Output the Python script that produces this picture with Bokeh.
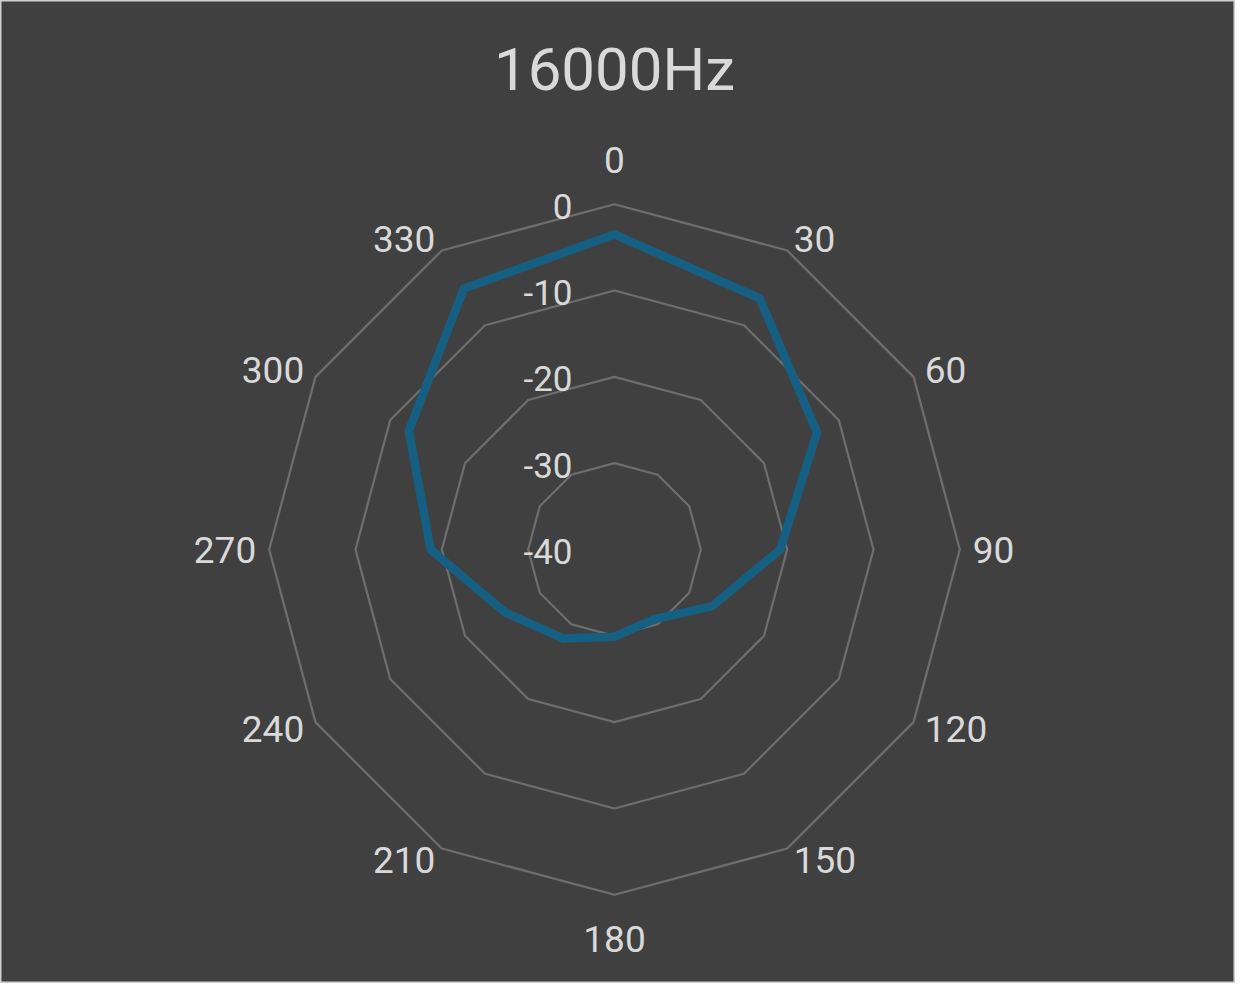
import numpy as np
from bokeh.plotting import figure
from bokeh.models import Range1d, ColumnDataSource
from bokeh.core.properties import value
from bokeh.embed import file_html
from bokeh.resources import INLINE

# ---------------- data ----------------
title_text = "16000Hz"
angles_deg = [0, 30, 60, 90, 120, 150, 180, 210, 240, 270, 300, 330]
angle_labels = ["0", "30", "60", "90", "120", "150", "180", "210", "240", "270", "300", "330"]
levels_db = [-3.5, -6.4, -12.9, -20.8, -26.9, -30.7, -29.9, -28.1, -25.4, -18.7, -12.5, -5.1]
ring_values = [0, -10, -20, -30]
radial_tick_values = [0, -10, -20, -30, -40]
radial_tick_labels = ["0", "-10", "-20", "-30", "-40"]
r_min, r_max = -40, 0

# ---------------- styling / layout ----------------
W, H = 1235, 983
PX = 345.3 / 40.0          # pixels per dB
CX, CY = 614, 549          # centre of the radar in figure pixels (from top-left)
BG = "#404040"
GRID = "#6e6e6e"
TXT = "#d9d9d9"
LINE = "#156082"
FONT = "Roboto"

p = figure(width=W, height=H, output_backend="svg", toolbar_location=None,
           x_range=Range1d(-CX / PX, (W - CX) / PX),
           y_range=Range1d(-(H - CY) / PX, CY / PX),
           x_axis_location=None, y_axis_location=None, min_border=0,
           background_fill_color=BG, border_fill_color=BG,
           outline_line_color="#d0d0d0", outline_line_width=2)
p.grid.visible = False

theta = np.radians(np.array(angles_deg, dtype=float))
s, c = np.sin(theta), np.cos(theta)

# grid rings (12-gons)
for v in ring_values:
    r = v - r_min
    p.patch(list(r * s), list(r * c), fill_color=None, fill_alpha=0,
            line_color=GRID, line_width=2.2)

# data series
rv = np.array(levels_db) - r_min
p.patch(list(rv * s), list(rv * c), fill_color=None, fill_alpha=0,
        line_color=LINE, line_width=8.5, line_join="miter")

# radial tick labels
rt = np.array(radial_tick_values) - r_min
p.text(x=[-42 / PX] * len(rt), y=list(rt - 2 / PX), text=radial_tick_labels,
       text_color=TXT, text_font=value(FONT), text_font_size="35px",
       text_align="right", text_baseline="middle")

# angle labels
R = r_max - r_min
gap = 13 / PX
lx = R * s + gap * s
ly = R * c + gap * c
groups = {"left": [], "right": [], "center": []}
for i, lab in enumerate(angle_labels):
    if abs(s[i]) < 1e-6:
        y = ly[i] + np.sign(c[i]) * 31 / PX
        groups["center"].append((lx[i], y, lab))
    elif s[i] > 0:
        groups["left"].append((lx[i], ly[i], lab))
    else:
        groups["right"].append((lx[i], ly[i], lab))
for align, items in groups.items():
    if not items:
        continue
    src = ColumnDataSource(dict(x=[t[0] for t in items], y=[t[1] for t in items],
                                t=[t[2] for t in items]))
    p.text(x="x", y="y", text="t", source=src, text_color=TXT,
           text_font=value(FONT), text_font_size="37px",
           text_align=align, text_baseline="middle")

# title
p.text(x=[0], y=[480 / PX], text=[title_text], text_color=TXT,
       text_font=value(FONT), text_font_size="60px",
       text_align="center", text_baseline="middle")

open("out.html", "w").write(file_html(p, INLINE))
